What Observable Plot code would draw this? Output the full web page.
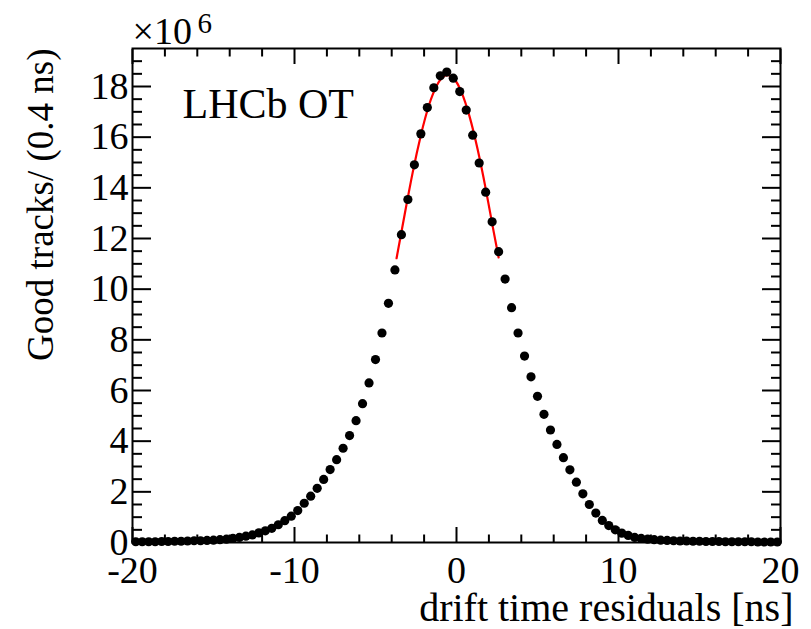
<!DOCTYPE html>
<html><head><meta charset="utf-8">
<script src="https://cdn.jsdelivr.net/npm/d3@7"></script>
<script src="https://cdn.jsdelivr.net/npm/@observablehq/plot@0.6"></script>
<style>
body{margin:0;background:#fff}
svg{display:block}
</style>
</head><body><div id="chart"></div>
<script>
// bin centres (ns), bins of 0.4 ns
const binCenters = [
 -19.8,-19.4,-19.0,-18.6,-18.2,-17.8,-17.4,-17.0,-16.6,-16.2,
 -15.8,-15.4,-15.0,-14.6,-14.2,-13.8,-13.4,-13.0,-12.6,-12.2,
 -11.8,-11.4,-11.0,-10.6,-10.2,-9.8,-9.4,-9.0,-8.6,-8.2,
 -7.8,-7.4,-7.0,-6.6,-6.2,-5.8,-5.4,-5.0,-4.6,-4.2,
 -3.8,-3.4,-3.0,-2.6,-2.2,-1.8,-1.4,-1.0,-0.6,-0.2,
 0.2,0.6,1.0,1.4,1.8,2.2,2.6,3.0,3.4,3.8,
 4.2,4.6,5.0,5.4,5.8,6.2,6.6,7.0,7.4,7.8,
 8.2,8.6,9.0,9.4,9.8,10.2,10.6,11.0,11.4,11.8,
 12.2,12.6,13.0,13.4,13.8,14.2,14.6,15.0,15.4,15.8,
 16.2,16.6,17.0,17.4,17.8,18.2,18.6,19.0,19.4,19.8
];
// good tracks per bin (x 10^6)
const tracksMillions = [
 0.03,0.03,0.03,0.03,0.04,0.04,0.05,0.05,0.06,0.07,
 0.07,0.08,0.09,0.11,0.13,0.16,0.20,0.25,0.30,0.38,
 0.46,0.56,0.70,0.86,1.04,1.26,1.55,1.83,2.14,2.49,
 2.88,3.27,3.72,4.22,4.81,5.48,6.30,7.22,8.27,9.44,
 10.76,12.15,13.54,14.91,16.13,17.17,17.95,18.42,18.57,18.33,
 17.80,17.07,16.08,14.98,13.83,12.66,11.48,10.40,9.27,8.27,
 7.36,6.54,5.77,5.06,4.44,3.87,3.35,2.87,2.38,1.92,
 1.50,1.16,0.87,0.67,0.50,0.37,0.28,0.20,0.16,0.13,
 0.11,0.09,0.08,0.07,0.06,0.06,0.05,0.05,0.04,0.04,
 0.04,0.03,0.03,0.03,0.03,0.03,0.02,0.02,0.02,0.02
];
// fit curve
const fitX = [-3.7,-3.2,-2.7,-2.2,-1.7,-1.2,-0.7,-0.2,0.3,0.8,1.3,1.8,2.3,2.6];
const fitY = [11.22,12.95,14.62,16.08,17.26,18.06,18.43,18.34,17.79,16.83,15.53,13.97,12.25,11.25];

const xMajorTicks = [-20,-10,0,10,20];
const xMinorTicks = [-18,-16,-14,-12,-8,-6,-4,-2,2,4,6,8,12,14,16,18];
const yMajorTicks = [0,2,4,6,8,10,12,14,16,18];
const yMinorTicks = d3.range(0.5, 19.5, 0.5).filter(v => v % 2 !== 0);

const xTitle = "drift time residuals [ns]";
const yTitle = "Good tracks/ (0.4 ns)";
const tag = "LHCb OT";
const expBase = "×10";
const expPow = "6";

const serif = "Liberation Serif";
const noLabel = () => "";
const chart = Plot.plot({
  width: 811, height: 629,
  marginLeft: 132, marginRight: 31, marginTop: 48, marginBottom: 87,
  style: {fontFamily: serif, fontSize: "38px", color: "black", background: "white"},
  x: {domain: [-20, 20], label: null},
  y: {domain: [0, 19.5], label: null},
  marks: [
    // bottom axis
    Plot.axisX(xMajorTicks, {anchor: "bottom", tickSize: -15, tickPadding: 29, strokeWidth: 2, tickFormat: d => String(d), fontSize: 38, fontFamily: serif, label: null}),
    Plot.axisX(xMinorTicks, {anchor: "bottom", tickSize: -7.5, strokeWidth: 2, tickFormat: noLabel, label: null}),
    // top axis
    Plot.axisX(xMajorTicks, {anchor: "top", tickSize: -15, strokeWidth: 2, tickFormat: noLabel, label: null}),
    Plot.axisX(xMinorTicks, {anchor: "top", tickSize: -7.5, strokeWidth: 2, tickFormat: noLabel, label: null}),
    // left axis
    Plot.axisY(yMajorTicks, {anchor: "left", tickSize: -19, tickPadding: 23, strokeWidth: 2, tickFormat: d => String(d), fontSize: 38, fontFamily: serif, label: null}),
    Plot.axisY(yMinorTicks, {anchor: "left", tickSize: -10, strokeWidth: 2, tickFormat: noLabel, label: null}),
    // right axis
    Plot.axisY(yMajorTicks, {anchor: "right", tickSize: -19, strokeWidth: 2, tickFormat: noLabel, label: null}),
    Plot.axisY(yMinorTicks, {anchor: "right", tickSize: -10, strokeWidth: 2, tickFormat: noLabel, label: null}),
    Plot.frame({strokeWidth: 2, stroke: "black"}),
    Plot.line(fitY, {x: fitX, y: fitY, stroke: "#ff0000", strokeWidth: 2.2, curve: "natural"}),
    Plot.dot(tracksMillions, {x: binCenters, y: tracksMillions, r: 4.6, fill: "black", stroke: "none"}),
    Plot.text([tag], {frameAnchor: "top-left", dx: 50, dy: 69, textAnchor: "start", lineAnchor: "bottom", fontSize: 42, fontFamily: serif}),
    Plot.text([expBase], {frameAnchor: "top-left", dx: 0, dy: -5, textAnchor: "start", lineAnchor: "bottom", fontSize: 38, fontFamily: serif}),
    Plot.text([expPow], {frameAnchor: "top-left", dx: 65, dy: -16, textAnchor: "start", lineAnchor: "bottom", fontSize: 29, fontFamily: serif}),
    Plot.text([xTitle], {frameAnchor: "bottom-right", dx: 13, dy: 78, textAnchor: "end", lineAnchor: "bottom", fontSize: 40, fontFamily: serif}),
    Plot.text([yTitle], {frameAnchor: "top-left", dx: -80, dy: 0, rotate: -90, textAnchor: "end", lineAnchor: "bottom", fontSize: 37, fontFamily: serif})
  ]
});
document.getElementById("chart").appendChild(chart);
</script>
</body></html>
